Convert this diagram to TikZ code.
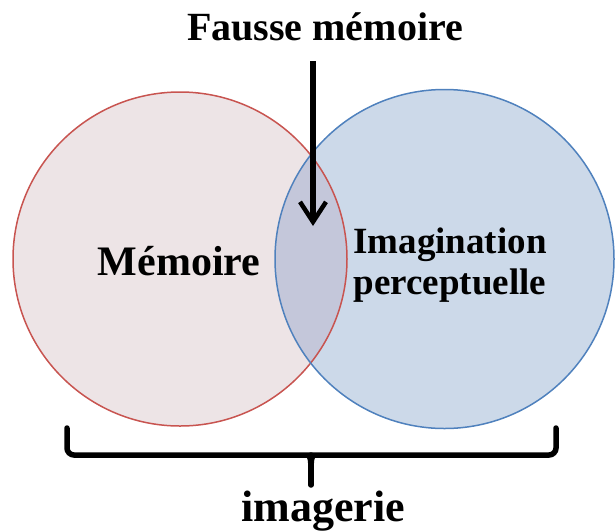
\documentclass[tikz,border=0pt]{standalone}
\usepackage{fontspec}
\setmainfont{Liberation Serif}
\usetikzlibrary{arrows.meta}

\definecolor{memfill}{RGB}{237,228,230}
\definecolor{memedge}{RGB}{200,84,80}
\definecolor{imgfill}{RGB}{204,217,233}
\definecolor{imgedge}{RGB}{79,129,189}
\definecolor{lensfill}{RGB}{196,199,218}

\tikzset{
  label40/.style={font=\fontsize{40}{48}\selectfont\bfseries, inner sep=0pt, anchor=base},
  label42/.style={font=\fontsize{42}{50}\selectfont\bfseries, inner sep=0pt, anchor=base},
  label37/.style={font=\fontsize{37}{44}\selectfont\bfseries, inner sep=0pt, anchor=base},
  label44/.style={font=\fontsize{44}{52}\selectfont\bfseries, inner sep=0pt, anchor=base},
  ring/.style={circle, inner sep=0pt, line width=1.5pt},
  bracket/.style={line width=5.5pt, rounded corners=7pt, line cap=round},
}

\begin{document}
\begin{tikzpicture}[x=1pt,y=-1pt]
\useasboundingbox (0,0) rectangle (615,531);

% the two sets
\node[ring, fill=memfill, minimum size=334pt] (mem) at (180,259) {};
\node[ring, fill=imgfill, minimum size=339pt] (img) at (444.5,259) {};
\begin{scope}
  \clip (180,259) circle (167);
  \fill[lensfill] (444.5,259) circle (169.5);
\end{scope}
\draw[memedge, line width=1.5pt] (180,259) circle (167);
\draw[imgedge, line width=1.5pt] (444.5,259) circle (169.5);

% labels inside the sets
\node[label42] (memT) at (179,275) {Mémoire};
\node[label37] (imgT1) at (450,253) {Imagination};
\node[label37] (imgT2) at (450,294) {perceptuelle};

% heading and pointer into the overlap
\node[label40] (fm) at (325,40) {Fausse mémoire};
\coordinate (arrTop) at (313,61);
\coordinate (arrTip) at (313,226);
\draw[line width=5.5pt, -{Straight Barb[length=20pt,width=26pt,line width=4.5pt]}] (arrTop) -- (arrTip);

% bracket under both sets
\coordinate (bL) at (67,428);
\coordinate (bR) at (556,428);
\coordinate (bMid) at (311,455);
\coordinate (bTip) at (311,485);
\draw[bracket] (bL) |- (bMid) -| (bR);
\draw[line width=5.5pt, line cap=round] (bMid) -- (bTip);
\fill (bMid) ++(-8,0) to[out=0,in=90] ++(5,8) -- ++(6,0) to[out=90,in=180] ++(5,-8) -- cycle;

\node[label44] (imag) at (323,521) {imagerie};
\end{tikzpicture}
\end{document}
